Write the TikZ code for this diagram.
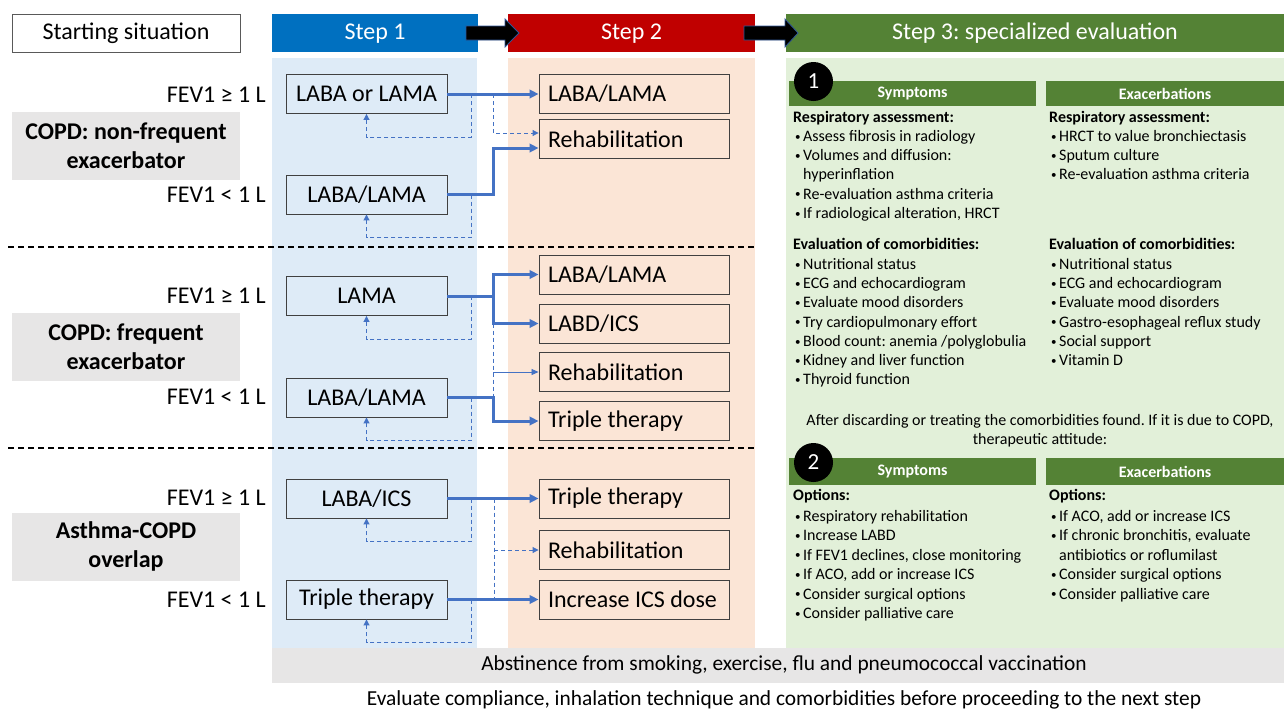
\documentclass[tikz,border=0pt]{standalone}
\usepackage{fontspec}
\setmainfont{Carlito}
\usetikzlibrary{arrows.meta,calc}
\definecolor{lblue}{HTML}{DEEBF7}
\definecolor{lorange}{HTML}{FBE5D6}
\definecolor{lgreen}{HTML}{E2F0D9}
\definecolor{hblue}{HTML}{0070C0}
\definecolor{hred}{HTML}{C00000}
\definecolor{hgreen}{HTML}{548235}
\definecolor{lgray}{HTML}{E7E6E6}
\definecolor{conn}{HTML}{4472C4}
\definecolor{bord}{HTML}{404040}
\definecolor{navy}{HTML}{2F5597}
\newcommand{\bu}{\makebox[9pt][l]{\hspace*{1pt}\raisebox{1.2pt}{\fontsize{11}{11}\selectfont •}}}
\newcommand{\ind}{\hspace*{9pt}}
\frenchspacing
\begin{document}
\frenchspacing
\begin{tikzpicture}[x=1pt,y=-1pt,
  every node/.append style={execute at begin node=\frenchspacing},
  bigf/.style={font=\fontsize{24}{28}\selectfont},
  hdr/.style={bigf,text=white,minimum height=38pt,inner sep=0,text height=16pt,text depth=3pt},
  lab/.style={fill=lgray,minimum width=228pt,minimum height=68pt,align=center,inner sep=0,font=\fontsize{24}{29}\selectfont\bfseries},
  fev/.style={bigf,anchor=east,inner sep=0},
  boxa/.style={bigf,draw=bord,line width=0.9pt,fill=lblue,minimum width=161pt,minimum height=39pt,inner sep=0},
  boxb/.style={bigf,draw=bord,line width=0.9pt,fill=lorange,minimum width=190pt,minimum height=39pt,text width=172pt,inner xsep=9pt,inner ysep=0,align=flush left},
  main/.style={draw=conn,line width=3pt,-{Triangle[length=9pt,width=8.5pt]}},
  mainnt/.style={draw=conn,line width=3pt},
  fb/.style={draw=conn,line width=1pt,dash pattern=on 4pt off 3pt,-{Triangle[length=6pt,width=6pt]}},
  fbl/.style={draw=conn,line width=1pt,dash pattern=on 4pt off 3pt},
  thinarr/.style={draw=conn,line width=0.8pt,-{Triangle[length=7pt,width=6pt]}},
  sh/.style={fill=hgreen,text=white,inner sep=0,font=\fontsize{16}{19}\selectfont\bfseries},
  num/.style={circle,fill=black,text=white,minimum size=39pt,inner sep=0,font=\fontsize{23}{23}\selectfont},
  lst/.style={anchor=mid west,inner sep=0,font=\fontsize{16}{19}\selectfont},
  sep/.style={draw=black,line width=1.6pt,dash pattern=on 6pt off 4pt}
]
\useasboundingbox (0,0) rectangle (1284,713);
% column backgrounds
\fill[lblue] (272,58) rectangle (477,648);
\fill[lorange] (508,58) rectangle (755,648);
\fill[lgreen] (786,58) rectangle (1284,648);
\fill[lgray] (272,648) rectangle (1284,683);
% headers
\node[draw=black!65,line width=1pt,fill=white,bigf,minimum width=228pt,minimum height=38pt,inner sep=0,text height=16pt,text depth=3pt] (start) at (126,33) {Starting situation};
\node[hdr,fill=hblue,minimum width=206pt] (h1) at (375,33) {Step 1};
\node[hdr,fill=hred,minimum width=247pt] (h2) at (631.5,33) {Step 2};
\node[hdr,fill=hgreen,minimum width=498pt] (h3) at (1035,33) {Step 3: specialized evaluation};
\filldraw[fill=black,draw=navy,line width=0.8pt] (466,26) -- (505,26) -- (505,19) -- (519,33) -- (505,47) -- (505,40) -- (466,40) -- cycle;
\filldraw[fill=black,draw=navy,line width=0.8pt] (744,26) -- (785,26) -- (785,19) -- (798,33) -- (785,47) -- (785,40) -- (744,40) -- cycle;
% separators
\draw[sep] (8,247) -- (755,247);
\draw[sep] (8,448) -- (755,448);
% left labels
\node[lab] (l1) at (126,146) {COPD: non-frequent\\exacerbator};
\node[lab] (l2) at (126,346.5) {COPD: frequent\\exacerbator};
\node[lab] (l3) at (126,546.5) {Asthma-COPD\\overlap};
\node[fev] (f1) at (266,95) {FEV1 ≥ 1 L};
\node[fev] (f2) at (266,195) {FEV1 < 1 L};
\node[fev] (f3) at (266,296) {FEV1 ≥ 1 L};
\node[fev] (f4) at (266,397) {FEV1 < 1 L};
\node[fev] (f5) at (266,498) {FEV1 ≥ 1 L};
\node[fev] (f6) at (266,600) {FEV1 < 1 L};
% step 1 boxes
\node[boxa] (b1) at (366.5,94) {LABA or LAMA};
\node[boxa] (b2) at (366.5,194.5) {LABA/LAMA};
\node[boxa] (b3) at (366.5,296) {LAMA};
\node[boxa] (b4) at (366.5,397.5) {LABA/LAMA};
\node[boxa] (b5) at (366.5,498.5) {LABA/ICS};
\node[boxa] (b6) at (366.5,599.5) {Triple therapy};
% step 2 boxes
\node[boxb] (c1) at (634,94) {LABA/LAMA};
\node[boxb] (c2) at (634,139) {Rehabilitation};
\node[boxb] (c3) at (634,274.5) {LABA/LAMA};
\node[boxb] (c4) at (634,323.5) {LABD/ICS};
\node[boxb] (c5) at (634,372) {Rehabilitation};
\node[boxb] (c6) at (634,421) {Triple therapy};
\node[boxb] (c7) at (634,498.5) {Triple therapy};
\node[boxb] (c8) at (634,550) {Rehabilitation};
\node[boxb] (c9) at (634,599.5) {Increase ICS dose};
% group 1 connectors
\draw[fb] ([xshift=24pt]b1.east) -- ++(0,43) -| (b1.south);
\draw[fb] ([xshift=46pt]b1.east) |- ([yshift=6pt]c2.west);
\draw[fb] ([xshift=24pt]b2.east) -- ++(0,43) -| (b2.south);
\draw[main] (b1.east) -- (c1.west);
\draw[main] (b2.east) -- ++(46,0) |- ([yshift=-9pt]c2.west);
% group 2 connectors
\coordinate (j3) at ([xshift=46pt]b3.east);
\coordinate (j4) at ([xshift=46pt]b4.east);
\draw[fb] ([xshift=24pt]b3.east) -- ++(0,43) -| (b3.south);
\draw[fb] ([xshift=24pt]b4.east) -- ++(0,43) -| (b4.south);
\draw[fbl] (j3 |- c4.west) -- (j4);
\draw[thinarr] (j3 |- c5.west) -- (c5.west);
\draw[mainnt] (b3.east) -- (j3);
\draw[main] (j3) |- (c3.west);
\draw[main] (j3) |- (c4.west);
\draw[main] (b4.east) -- (j4) |- (c6.west);
% group 3 connectors
\coordinate (j5) at ([xshift=47pt]b5.east);
\coordinate (j6) at ([xshift=47pt]b6.east);
\draw[fb] ([xshift=24pt]b5.east) -- ++(0,43) -| (b5.south);
\draw[fb] ([xshift=24pt]b6.east) -- ++(0,43) -| (b6.south);
\draw[fbl] (j5) -- (j6);
\draw[fb] (j5 |- c8.west) -- (c8.west);
\draw[main] (b5.east) -- (c7.west);
\draw[main] (b6.east) -- (c9.west);
% step 3 panel
\node[sh,minimum width=247pt,minimum height=25pt] (sh1) at (912.5,93.5) {Symptoms};
\node[sh,minimum width=238pt,minimum height=25pt] (eh1) at (1165,93.5) {Exacerbations};
\node[num] (n1) at (813.5,81.5) {1};
\node[lst] (ra) at (793,120) {\bfseries Respiratory assessment:};
\foreach \t [count=\i from 0] in {{\bu Assess fibrosis in radiology},{\bu Volumes and diffusion:},{\ind hyperinflation},{\bu Re-evaluation asthma criteria},{\bu If radiological alteration, HRCT}}
  \node[lst] (ra\i) at (794,{139+19.25*\i}) {\t};
\node[lst] (ec) at (793,247) {\bfseries Evaluation of comorbidities:};
\foreach \t [count=\i from 0] in {{\bu Nutritional status},{\bu ECG and echocardiogram},{\bu Evaluate mood disorders},{\bu Try cardiopulmonary effort},{\bu Blood count: anemia /polyglobulia},{\bu Kidney and liver function},{\bu Thyroid function}}
  \node[lst] (ec\i) at (794,{267+19.25*\i}) {\t};
\node[lst] (rb) at (1049,120) {\bfseries Respiratory assessment:};
\foreach \t [count=\i from 0] in {{\bu HRCT to value bronchiectasis},{\bu Sputum culture},{\bu Re-evaluation asthma criteria}}
  \node[lst] (rb\i) at (1050,{139+19.25*\i}) {\t};
\node[lst] (ed) at (1049,247) {\bfseries Evaluation of comorbidities:};
\foreach \t [count=\i from 0] in {{\bu Nutritional status},{\bu ECG and echocardiogram},{\bu Evaluate mood disorders},{\bu Gastro-esophageal reflux study},{\bu Social support},{\bu Vitamin D}}
  \node[lst] (ed\i) at (1050,{267+19.25*\i}) {\t};
\node[inner sep=0,font=\fontsize{16}{19}\selectfont] (ad1) at (1040,421) {After discarding or treating the comorbidities found. If it is due to COPD,};
\node[inner sep=0,font=\fontsize{16}{19}\selectfont] (ad2) at (1040,440) {therapeutic attitude:};
\node[sh,minimum width=247pt,minimum height=27pt] (sh2) at (912.5,471.5) {Symptoms};
\node[sh,minimum width=238pt,minimum height=27pt] (eh2) at (1165,471.5) {Exacerbations};
\node[num] (n2) at (813.5,462.5) {2};
\node[lst] (oa) at (793,498) {\bfseries Options:};
\foreach \t [count=\i from 0] in {{\bu Respiratory rehabilitation},{\bu Increase LABD},{\bu If FEV1 declines, close monitoring},{\bu If ACO, add or increase ICS},{\bu Consider surgical options},{\bu Consider palliative care}}
  \node[lst] (oa\i) at (794,{519+19.4*\i}) {\t};
\node[lst] (ob) at (1049,498) {\bfseries Options:};
\foreach \t [count=\i from 0] in {{\bu If ACO, add or increase ICS},{\bu If chronic bronchitis, evaluate},{\ind antibiotics or roflumilast},{\bu Consider surgical options},{\bu Consider palliative care}}
  \node[lst] (ob\i) at (1050,{519+19.4*\i}) {\t};
% bottom
\node[inner sep=0,font=\fontsize{21.4}{25}\selectfont] (abst) at (784,665) {Abstinence from smoking, exercise, flu and pneumococcal vaccination};
\node[inner sep=0,font=\fontsize{21.4}{25}\selectfont] (evalc) at (784,700) {Evaluate compliance, inhalation technique and comorbidities before proceeding to the next step};
\end{tikzpicture}
\end{document}
